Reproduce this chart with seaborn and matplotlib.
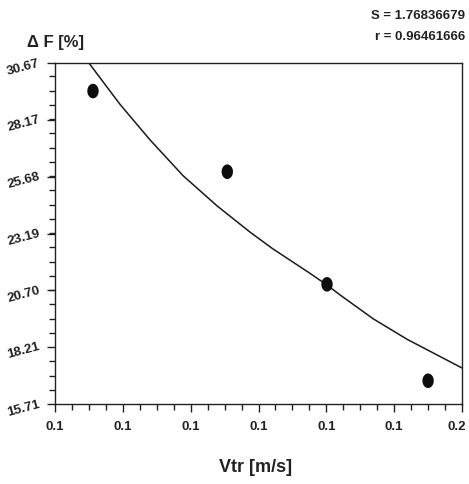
import numpy as np
import pandas as pd
import matplotlib
matplotlib.use("Agg")
import matplotlib.pyplot as plt
import matplotlib.transforms as mtrans
from matplotlib.path import Path
from matplotlib.ticker import AutoMinorLocator
import seaborn as sns

# ---- data ----
vtr_points = [0.1056, 0.1254, 0.1401, 0.1550]
df_points = [29.44, 25.90, 20.96, 16.73]

curve_x = [0.1050, 0.1096, 0.1140, 0.1189, 0.1239, 0.1288, 0.1321,
           0.1372, 0.1401, 0.1420, 0.1469, 0.1519, 0.1600]
curve_y = [30.67, 28.85, 27.30, 25.72, 24.40, 23.24, 22.52,
           21.52, 20.93, 20.50, 19.45, 18.55, 17.29]

x_ticks = [0.10, 0.11, 0.12, 0.13, 0.14, 0.15, 0.16]
x_tick_labels = ["0.1", "0.1", "0.1", "0.1", "0.1", "0.1", "0.2"]
y_ticks = [15.71, 18.21, 20.70, 23.19, 25.68, 28.17, 30.67]
y_tick_labels = ["15.71", "18.21", "20.70", "23.19", "25.68", "28.17", "30.67"]

stats_s = "S = 1.76836679"
stats_r = "r = 0.96461666"

# ---- styling ----
sns.set_theme(style="white")
plt.rcParams["font.family"] = ["Liberation Sans", "DejaVu Sans"]
plt.rcParams["axes.unicode_minus"] = False

fig = plt.figure(figsize=(4.69, 4.84), dpi=100)
ax = fig.add_axes([55 / 469, 80 / 484, 407 / 469, 341 / 484])

pts = pd.DataFrame({"Vtr": vtr_points, "dF": df_points})
crv = pd.DataFrame({"Vtr": curve_x, "dF": curve_y})

# elliptical marker (slightly taller than wide)
t = np.linspace(0, 2 * np.pi, 40)
ell = Path(np.column_stack([0.78 * np.cos(t), np.sin(t)]))

sns.lineplot(data=crv, x="Vtr", y="dF", sort=False, estimator=None,
             color="#1a1a1a", linewidth=1.1, ax=ax)
sns.scatterplot(data=pts, x="Vtr", y="dF", marker=ell, s=110,
                color="#0d0d0d", edgecolor="none", ax=ax, zorder=5)

ax.set_xlim(x_ticks[0], x_ticks[-1])
ax.set_ylim(y_ticks[0], y_ticks[-1])
ax.set_xticks(x_ticks)
ax.set_xticklabels(x_tick_labels, fontsize=9.5, fontweight="bold", color="#222222")
ax.set_yticks(y_ticks)
ax.set_yticklabels(y_tick_labels, fontsize=9.5, fontweight="bold", color="#222222",
                   rotation=15, rotation_mode="anchor", ha="right", va="center")
ax.xaxis.set_minor_locator(AutoMinorLocator(4))
ax.yaxis.set_minor_locator(AutoMinorLocator(4))
ax.tick_params(axis="both", which="major", direction="out", length=6, width=1,
               color="#222222", bottom=True, left=True)
ax.tick_params(axis="both", which="minor", direction="out", length=4, width=1,
               color="#222222", bottom=True, left=True)
ax.tick_params(axis="x", which="major", pad=6)
ax.tick_params(axis="y", which="major", pad=5)

# nudge the last x tick label inward so it stays inside the figure
last = ax.get_xticklabels()[-1]
last.set_transform(last.get_transform() +
                   mtrans.ScaledTranslation(-5 / 100, 0, fig.dpi_scale_trans))

for side in ["left", "bottom", "top", "right"]:
    ax.spines[side].set_visible(True)
    ax.spines[side].set_color("#222222")
    ax.spines[side].set_linewidth(1.0)

ax.set_xlabel("")
ax.set_ylabel("")

fig.text(256 / 469, 1 - 467 / 484, "Vtr [m/s]", ha="center", va="center",
         fontsize=13, fontweight="bold", color="#222222")
fig.text(27 / 469, 1 - 43 / 484, "\u0394 F [%]", ha="left", va="center",
         fontsize=12, fontweight="bold", color="#222222")
fig.text(465 / 469, 1 - 16 / 484, stats_s, ha="right", va="center",
         fontsize=9.5, fontweight="bold", color="#222222")
fig.text(465 / 469, 1 - 37 / 484, stats_r, ha="right", va="center",
         fontsize=9.5, fontweight="bold", color="#222222")

fig.savefig("out.png", dpi=100, facecolor="white")
